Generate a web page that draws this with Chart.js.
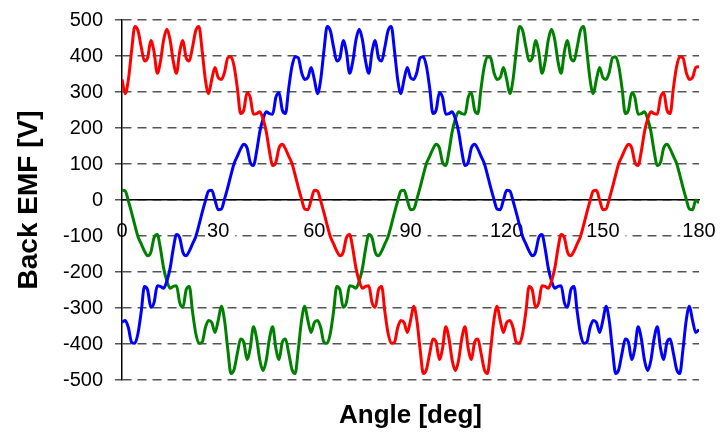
<!DOCTYPE html>
<html>
<head>
<meta charset="utf-8">
<title>Back EMF</title>
<script src="https://cdn.jsdelivr.net/npm/chart.js@4/dist/chart.umd.min.js"></script>
<style>
  body { margin: 0; background: #fff; }
  canvas { display: block; }
</style>
</head>
<body>
<canvas id="chartEmf" width="723" height="437"></canvas>
<script>
// Angulo mecanico (grados), un punto por grado
const angles = [
  0, 1, 2, 3, 4, 5, 6, 7, 8, 9, 10, 11, 12, 13, 14, 15, 16, 17, 18, 19,
  20, 21, 22, 23, 24, 25, 26, 27, 28, 29, 30, 31, 32, 33, 34, 35, 36, 37, 38, 39,
  40, 41, 42, 43, 44, 45, 46, 47, 48, 49, 50, 51, 52, 53, 54, 55, 56, 57, 58, 59,
  60, 61, 62, 63, 64, 65, 66, 67, 68, 69, 70, 71, 72, 73, 74, 75, 76, 77, 78, 79,
  80, 81, 82, 83, 84, 85, 86, 87, 88, 89, 90, 91, 92, 93, 94, 95, 96, 97, 98, 99,
  100, 101, 102, 103, 104, 105, 106, 107, 108, 109, 110, 111, 112, 113, 114, 115, 116, 117, 118, 119,
  120, 121, 122, 123, 124, 125, 126, 127, 128, 129, 130, 131, 132, 133, 134, 135, 136, 137, 138, 139,
  140, 141, 142, 143, 144, 145, 146, 147, 148, 149, 150, 151, 152, 153, 154, 155, 156, 157, 158, 159,
  160, 161, 162, 163, 164, 165, 166, 167, 168, 169, 170, 171, 172, 173, 174, 175, 176, 177, 178, 179,
  180
];

// Fase A (rojo) [V]
const phaseA = [
  335, 295, 335, 415, 482, 470, 425, 386, 395, 443,
  412, 352, 385, 445, 474, 445, 385, 352, 412, 443,
  395, 386, 425, 470, 482, 415, 335, 295, 335, 368,
  340, 335, 355, 395, 398, 370, 310, 240, 250, 298,
  285, 238, 240, 245, 225, 190, 135, 96, 105, 145,
  155, 142, 122, 102, 70, 35, 3, -25, -27, 0,
  27, 25, -3, -35, -70, -102, -122, -142, -155, -145,
  -105, -96, -135, -190, -225, -245, -240, -238, -285, -298,
  -250, -240, -310, -370, -398, -395, -355, -335, -340, -368,
  -335, -295, -335, -415, -482, -470, -425, -386, -395, -443,
  -412, -352, -385, -445, -474, -445, -385, -352, -412, -443,
  -395, -386, -425, -470, -482, -415, -335, -295, -335, -368,
  -340, -335, -355, -395, -398, -370, -310, -240, -250, -298,
  -285, -238, -240, -245, -225, -190, -135, -96, -105, -145,
  -155, -142, -122, -102, -70, -35, -3, 25, 27, 0,
  -27, -25, 3, 35, 70, 102, 122, 142, 155, 145,
  105, 96, 135, 190, 225, 245, 240, 238, 285, 298,
  250, 240, 310, 370, 398, 395, 355, 335, 340, 368,
  370
];

// Fase B (azul) [V]
const phaseB = [
  -340, -335, -355, -395, -398, -370, -310, -240, -250, -298,
  -285, -238, -240, -245, -225, -190, -135, -96, -105, -145,
  -155, -142, -122, -102, -70, -35, -3, 25, 27, 0,
  -27, -25, 3, 35, 70, 102, 122, 142, 155, 145,
  105, 96, 135, 190, 225, 245, 240, 238, 285, 298,
  250, 240, 310, 370, 398, 395, 355, 335, 340, 368,
  335, 295, 335, 415, 482, 470, 425, 386, 395, 443,
  412, 352, 385, 445, 474, 445, 385, 352, 412, 443,
  395, 386, 425, 470, 482, 415, 335, 295, 335, 368,
  340, 335, 355, 395, 398, 370, 310, 240, 250, 298,
  285, 238, 240, 245, 225, 190, 135, 96, 105, 145,
  155, 142, 122, 102, 70, 35, 3, -25, -27, 0,
  27, 25, -3, -35, -70, -102, -122, -142, -155, -145,
  -105, -96, -135, -190, -225, -245, -240, -238, -285, -298,
  -250, -240, -310, -370, -398, -395, -355, -335, -340, -368,
  -335, -295, -335, -415, -482, -470, -425, -386, -395, -443,
  -412, -352, -385, -445, -474, -445, -385, -352, -412, -443,
  -395, -386, -425, -470, -482, -415, -335, -295, -335, -368,
  -360
];

// Fase C (verde) [V]
const phaseC = [
  27, 25, -3, -35, -70, -102, -122, -142, -155, -145,
  -105, -96, -135, -190, -225, -245, -240, -238, -285, -298,
  -250, -240, -310, -370, -398, -395, -355, -335, -340, -368,
  -335, -295, -335, -415, -482, -470, -425, -386, -395, -443,
  -412, -352, -385, -445, -474, -445, -385, -352, -412, -443,
  -395, -386, -425, -470, -482, -415, -335, -295, -335, -368,
  -340, -335, -355, -395, -398, -370, -310, -240, -250, -298,
  -285, -238, -240, -245, -225, -190, -135, -96, -105, -145,
  -155, -142, -122, -102, -70, -35, -3, 25, 27, 0,
  -27, -25, 3, 35, 70, 102, 122, 142, 155, 145,
  105, 96, 135, 190, 225, 245, 240, 238, 285, 298,
  250, 240, 310, 370, 398, 395, 355, 335, 340, 368,
  335, 295, 335, 415, 482, 470, 425, 386, 395, 443,
  412, 352, 385, 445, 474, 445, 385, 352, 412, 443,
  395, 386, 425, 470, 482, 415, 335, 295, 335, 368,
  340, 335, 355, 395, 398, 370, 310, 240, 250, 298,
  285, 238, 240, 245, 225, 190, 135, 96, 105, 145,
  155, 142, 122, 102, 70, 35, 3, -25, -27, 0,
  -8
];

const xTicks = [0, 30, 60, 90, 120, 150, 180];
const yTicks = [-500, -400, -300, -200, -100, 0, 100, 200, 300, 400, 500];

const fuente = 'Liberation Sans, Arial, Helvetica, sans-serif';

function puntos(valores) {
    return angles.map((a, i) => ({ x: a, y: valores[i] }));
}

function serie(valores, color) {
    return {
        data: puntos(valores),
        borderColor: color,
        backgroundColor: color,
        borderWidth: 3,
        pointRadius: 0,
        cubicInterpolationMode: 'monotone',
        fill: false
    };
}

const ctx = document.getElementById('chartEmf').getContext('2d');

new Chart(ctx, {
    type: 'line',
    data: {
        datasets: [
            serie(phaseA, '#ff0000'),
            serie(phaseB, '#0000ff'),
            serie(phaseC, '#008000')
        ]
    },
    options: {
        responsive: false,
        animation: false,
        events: [],
        layout: {
            padding: { top: 20, right: 24, bottom: 0, left: 0 }
        },
        plugins: {
            legend: { display: false },
            tooltip: { enabled: false }
        },
        scales: {
            x: {
                type: 'linear',
                min: 0,
                max: 180,
                position: { y: 0 },
                afterBuildTicks: s => { s.ticks = xTicks.map(v => ({ value: v })); },
                // el eje cruza en y=0, no debe reservar margen lateral
                afterFit: s => { s.paddingLeft = 0; s.paddingRight = 0; },
                grid: { display: false, drawTicks: false },
                border: { display: true, color: '#000', width: 1.5 },
                ticks: {
                    color: '#000',
                    padding: 19,
                    maxRotation: 0,
                    font: { family: fuente, size: 20 },
                    showLabelBackdrop: true,
                    backdropColor: '#fff',
                    backdropPadding: { top: 0, bottom: 0, left: 2, right: 6 }
                }
            },
            xTitulo: {
                type: 'linear',
                axis: 'x',
                position: 'bottom',
                min: 0,
                max: 180,
                grid: { display: false, drawTicks: false },
                border: { display: false },
                ticks: { display: false },
                afterFit: s => { s.height = 57; },
                title: {
                    display: true,
                    text: 'Angle [deg]',
                    color: '#000',
                    font: { family: fuente, size: 26, weight: 'bold' },
                    padding: { top: 0, bottom: 6 }
                }
            },
            y: {
                type: 'linear',
                min: -500,
                max: 500,
                afterBuildTicks: s => { s.ticks = yTicks.map(v => ({ value: v })); },
                afterFit: s => { s.width = 122; s.paddingTop = 0; s.paddingBottom = 0; },
                grid: { color: '#555', lineWidth: 1.5, tickLength: 7, tickColor: '#555', z: -1 },
                border: { display: true, color: '#000', width: 1.5, dash: [9, 6] },
                ticks: {
                    color: '#000',
                    padding: 12,
                    font: { family: fuente, size: 20 }
                },
                title: {
                    display: true,
                    text: 'Back EMF [V]',
                    color: '#000',
                    font: { family: fuente, size: 28, weight: 'bold' },
                    padding: { top: 12, bottom: 0 }
                }
            }
        }
    }
});
</script>
</body>
</html>
